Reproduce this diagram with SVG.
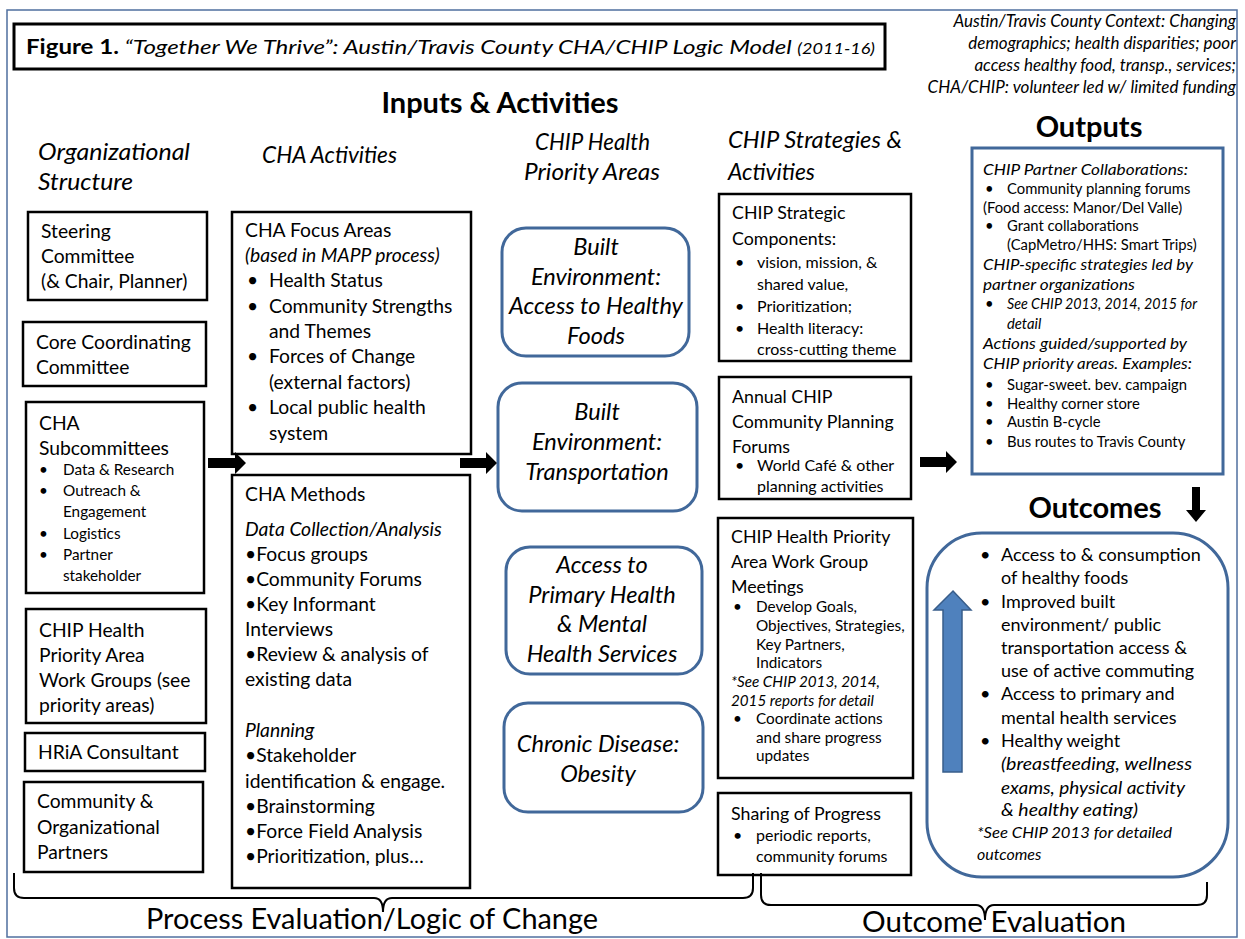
<svg xmlns="http://www.w3.org/2000/svg" width="1245" height="939" viewBox="0 0 1245 939">
<defs>
<style>
text{font-family:Lato,"Liberation Sans",sans-serif;fill:#000}
.it{font-style:italic}
.b{font-weight:bold}
.box{fill:#fff;stroke:#000;stroke-width:2.5}
.rbox{fill:#fff;stroke:#41689a;stroke-width:3}
.t19{font-size:19.3px}
.t18{font-size:17.8px}
.t16{font-size:16px}
.t15{font-size:15.3px}
.t24{font-size:23.6px}
.o15{font-size:14.8px}
.hd{font-size:23.5px;font-style:italic}
.big{font-size:29px;font-weight:bold}
.brace{fill:none;stroke:#000;stroke-width:2}
.blk{fill:#000}
</style>
</defs>
<rect x="0" y="0" width="1245" height="939" fill="#fff"/>
<rect x="7" y="10" width="1230" height="927" fill="none" stroke="#4f6f9f" stroke-width="1.5"/>

<g id="title">
<rect x="14" y="24" width="871" height="45" fill="#fff" stroke="#000" stroke-width="3"/>
<text x="26" y="54" font-size="20" textLength="849" lengthAdjust="spacingAndGlyphs"><tspan class="b">Figure 1.</tspan><tspan class="it"> “Together We Thrive”: Austin/Travis County CHA/CHIP Logic Model </tspan><tspan class="it" font-size="15">(2011-16)</tspan></text>
</g>

<g id="context" class="it" font-size="17" text-anchor="end">
<text x="1236" y="27">Austin/Travis County Context: Changing</text>
<text x="1236" y="49">demographics; health disparities; poor</text>
<text x="1236" y="71">access healthy food, transp., services;</text>
<text x="1236" y="93">CHA/CHIP: volunteer led w/ limited funding</text>
</g>

<g id="headers">
<text x="500" y="113" class="big" text-anchor="middle">Inputs &amp; Activities</text>
<text x="1089" y="137" class="big" text-anchor="middle">Outputs</text>
<text x="38" y="160" class="hd" textLength="152" lengthAdjust="spacingAndGlyphs">Organizational</text>
<text x="38" y="190" class="hd" textLength="95" lengthAdjust="spacingAndGlyphs">Structure</text>
<text x="262" y="163" class="hd" textLength="135" lengthAdjust="spacingAndGlyphs">CHA Activities</text>
<text x="535" y="150" class="hd" textLength="115" lengthAdjust="spacingAndGlyphs">CHIP Health</text>
<text x="524" y="180" class="hd" textLength="136" lengthAdjust="spacingAndGlyphs">Priority Areas</text>
<text x="728" y="148" class="hd" textLength="174" lengthAdjust="spacingAndGlyphs">CHIP Strategies &amp;</text>
<text x="728" y="180" class="hd" textLength="87" lengthAdjust="spacingAndGlyphs">Activities</text>
<text x="1095" y="518" class="big" text-anchor="middle">Outcomes</text>
</g>

<g id="steering">
<rect class="box" x="28" y="212" width="179" height="88"/>
<text class="t19" x="41" y="238">Steering</text>
<text class="t19" x="41" y="263">Committee</text>
<text class="t19" x="41" y="288">(&amp; Chair, Planner)</text>
</g>
<g id="core">
<rect class="box" x="23" y="322" width="183" height="64"/>
<text class="t19" x="36" y="349">Core Coordinating</text>
<text class="t19" x="36" y="374">Committee</text>
</g>
<g id="subcommittees">
<rect class="box" x="26" y="402" width="178" height="191"/>
<text class="t19" x="39" y="430">CHA</text>
<text class="t19" x="39" y="455">Subcommittees</text>
<g class="t15">
<text x="39" y="475">•</text><text x="63" y="475">Data &amp; Research</text>
<text x="39" y="496">•</text><text x="63" y="496">Outreach &amp;</text>
<text x="63" y="517">Engagement</text>
<text x="39" y="539">•</text><text x="63" y="539">Logistics</text>
<text x="39" y="560">•</text><text x="63" y="560">Partner</text>
<text x="63" y="581">stakeholder</text>
</g>
</g>
<g id="workgroups">
<rect class="box" x="26" y="609" width="180" height="114"/>
<text class="t19" x="39" y="637">CHIP Health</text>
<text class="t19" x="39" y="662">Priority Area</text>
<text class="t19" x="39" y="687">Work Groups (see</text>
<text class="t19" x="39" y="712">priority areas)</text>
</g>
<g id="hria">
<rect class="box" x="25" y="733" width="180" height="38"/>
<text class="t19" x="38" y="759">HRiA Consultant</text>
</g>
<g id="partners">
<rect class="box" x="24" y="782" width="179" height="90"/>
<text class="t19" x="37" y="808">Community &amp;</text>
<text class="t19" x="37" y="834">Organizational</text>
<text class="t19" x="37" y="859">Partners</text>
</g>

<g id="focus-areas">
<rect class="box" x="232" y="212" width="239" height="242"/>
<g class="t19">
<text x="245" y="237">CHA Focus Areas</text>
<text x="245" y="262" class="it">(based in MAPP process)</text>
<text x="247" y="287">•</text><text x="269" y="287">Health Status</text>
<text x="247" y="313">•</text><text x="269" y="313">Community Strengths</text>
<text x="269" y="338">and Themes</text>
<text x="247" y="363">•</text><text x="269" y="363">Forces of Change</text>
<text x="269" y="389">(external factors)</text>
<text x="247" y="414">•</text><text x="269" y="414">Local public health</text>
<text x="269" y="440">system</text>
</g>
</g>
<g id="methods">
<rect class="box" x="232" y="475" width="238" height="413"/>
<g class="t19">
<text x="245" y="501">CHA Methods</text>
<text x="245" y="536" class="it">Data Collection/Analysis</text>
<text x="245" y="561">•Focus groups</text>
<text x="245" y="586">•Community Forums</text>
<text x="245" y="611">•Key Informant</text>
<text x="245" y="636">Interviews</text>
<text x="245" y="661">•Review &amp; analysis of</text>
<text x="245" y="686">existing data</text>
<text x="245" y="737" class="it">Planning</text>
<text x="245" y="762">•Stakeholder</text>
<text x="245" y="788">identification &amp;  engage.</text>
<text x="245" y="813">•Brainstorming</text>
<text x="245" y="838">•Force Field Analysis</text>
<text x="245" y="863">•Prioritization, plus…</text>
</g>
</g>

<g id="pa-food">
<rect class="rbox" x="502" y="228" width="187" height="128" rx="24"/>
<g class="t24 it" text-anchor="middle">
<text x="596" y="255">Built</text>
<text x="596" y="285">Environment:</text>
<text x="596" y="314">Access to Healthy</text>
<text x="596" y="344">Foods</text>
</g>
</g>
<g id="pa-transport">
<rect class="rbox" x="498" y="383" width="199" height="128" rx="24"/>
<g class="t24 it" text-anchor="middle">
<text x="597" y="420">Built</text>
<text x="597" y="450">Environment:</text>
<text x="597" y="480">Transportation</text>
</g>
</g>
<g id="pa-primary">
<rect class="rbox" x="506" y="547" width="196" height="127" rx="24"/>
<g class="t24 it" text-anchor="middle">
<text x="602" y="573">Access to</text>
<text x="602" y="603">Primary Health</text>
<text x="602" y="632">&amp; Mental</text>
<text x="602" y="662">Health Services</text>
</g>
</g>
<g id="pa-obesity">
<rect class="rbox" x="504" y="703" width="199" height="109" rx="24"/>
<g class="t24 it" text-anchor="middle">
<text x="598" y="752">Chronic Disease:</text>
<text x="598" y="782">Obesity</text>
</g>
</g>

<g id="strategic">
<rect class="box" x="719" y="194" width="192" height="167"/>
<text class="t18" x="732" y="219">CHIP Strategic</text>
<text class="t18" x="732" y="245">Components:</text>
<g class="t16">
<text x="735" y="268">•</text><text x="757" y="268">vision, mission, &amp;</text>
<text x="757" y="290">shared value,</text>
<text x="735" y="312">•</text><text x="757" y="312">Prioritization;</text>
<text x="735" y="334">•</text><text x="757" y="334">Health literacy:</text>
<text x="757" y="355">cross-cutting theme</text>
</g>
</g>
<g id="forums">
<rect class="box" x="719" y="377" width="192" height="122"/>
<text class="t18" x="732" y="403">Annual CHIP</text>
<text class="t18" x="732" y="428">Community Planning</text>
<text class="t18" x="732" y="453">Forums</text>
<g class="t16">
<text x="735" y="471">•</text><text x="757" y="471">World Café &amp; other</text>
<text x="757" y="492">planning activities</text>
</g>
</g>
<g id="wg-meetings">
<rect class="box" x="718" y="518" width="195" height="260"/>
<text class="t18" x="731" y="543">CHIP Health Priority</text>
<text class="t18" x="731" y="568">Area Work Group</text>
<text class="t18" x="731" y="593">Meetings</text>
<g class="t15">
<text x="733" y="612">•</text><text x="756" y="612">Develop Goals,</text>
<text x="756" y="631">Objectives, Strategies,</text>
<text x="756" y="650">Key Partners,</text>
<text x="756" y="668">Indicators</text>
<text x="731" y="687" class="it" textLength="149" lengthAdjust="spacingAndGlyphs">*See CHIP 2013, 2014,</text>
<text x="731" y="706" class="it" textLength="143" lengthAdjust="spacingAndGlyphs">2015 reports for detail</text>
<text x="733" y="724">•</text><text x="756" y="724">Coordinate actions</text>
<text x="756" y="743">and share progress</text>
<text x="756" y="761">updates</text>
</g>
</g>
<g id="sharing">
<rect class="box" x="718" y="793" width="193" height="82"/>
<text class="t18" x="731" y="820">Sharing of Progress</text>
<g class="t16">
<text x="733" y="841">•</text><text x="756" y="841">periodic reports,</text>
<text x="756" y="862">community forums</text>
</g>
</g>

<g id="outputs">
<rect x="972" y="148" width="251" height="326" fill="#fff" stroke="#41689a" stroke-width="3"/>
<g class="o15">
<text x="983" y="175" class="it" textLength="205" lengthAdjust="spacingAndGlyphs">CHIP Partner  Collaborations:</text>
<text x="985" y="194">•</text><text x="1007" y="194">Community planning forums</text>
<text x="983" y="213">(Food access:  Manor/Del Valle)</text>
<text x="985" y="231">•</text><text x="1007" y="231">Grant collaborations</text>
<text x="1007" y="250">(CapMetro/HHS: Smart Trips)</text>
<text x="983" y="270" class="it" textLength="210" lengthAdjust="spacingAndGlyphs">CHIP-specific strategies led by</text>
<text x="983" y="290" class="it" textLength="152" lengthAdjust="spacingAndGlyphs">partner organizations</text>
<text x="985" y="309">•</text><text x="1007" y="309" class="it" textLength="190" lengthAdjust="spacingAndGlyphs">See CHIP 2013, 2014, 2015 for</text>
<text x="1007" y="329" class="it">detail</text>
<text x="983" y="349" class="it" textLength="204" lengthAdjust="spacingAndGlyphs">Actions guided/supported by</text>
<text x="983" y="369" class="it" textLength="209" lengthAdjust="spacingAndGlyphs">CHIP priority areas.  Examples:</text>
<text x="985" y="390">•</text><text x="1007" y="390">Sugar-sweet. bev. campaign</text>
<text x="985" y="409">•</text><text x="1007" y="409">Healthy corner store</text>
<text x="985" y="427">•</text><text x="1007" y="427">Austin B-cycle</text>
<text x="985" y="447">•</text><text x="1007" y="447">Bus routes to Travis County</text>
</g>
</g>

<g id="outcomes">
<rect x="927" y="533" width="301" height="344" rx="55" fill="#fff" stroke="#41689a" stroke-width="3"/>
<path d="M953,591 L971,610 L962,610 L962,772 L943,772 L943,610 L934,610 Z" fill="#4f81bd" stroke="#385d8a" stroke-width="1.5"/>
<g font-size="18">
<text x="980" y="561">•</text><text x="1001" y="561">Access to &amp; consumption</text>
<text x="1001" y="584">of healthy foods</text>
<text x="980" y="608">•</text><text x="1001" y="608">Improved built</text>
<text x="1001" y="631">environment/ public</text>
<text x="1001" y="654">transportation access &amp;</text>
<text x="1001" y="677">use of active commuting</text>
<text x="980" y="700">•</text><text x="1001" y="700">Access to primary and</text>
<text x="1001" y="724">mental health services</text>
<text x="980" y="747">•</text><text x="1001" y="747">Healthy weight</text>
<text x="1001" y="770" class="it" textLength="191" lengthAdjust="spacingAndGlyphs">(breastfeeding, wellness</text>
<text x="1001" y="794" class="it" textLength="184" lengthAdjust="spacingAndGlyphs">exams, physical activity</text>
<text x="1001" y="816" class="it" textLength="137" lengthAdjust="spacingAndGlyphs">&amp; healthy eating)</text>
</g>
<text x="977" y="838" font-size="16" class="it" textLength="195" lengthAdjust="spacingAndGlyphs">*See CHIP 2013 for detailed</text>
<text x="977" y="860" font-size="16" class="it">outcomes</text>
</g>

<g id="connectors">
<path class="blk" d="M208,458 L235,458 L235,452 L246,463 L235,474 L235,468 L208,468 Z"/>
<path class="blk" d="M460,458 L486,458 L486,452 L497,463 L486,474 L486,468 L460,468 Z"/>
<path class="blk" d="M920,457 L946,457 L946,451 L957,462 L946,473 L946,467 L920,467 Z"/>
<path class="blk" d="M1192,487 L1200,487 L1200,510 L1206,510 L1196,522 L1186,510 L1192,510 Z"/>
<path class="brace" d="M14,873 L14,888 Q14,898 24,898 L374,898 Q383,898 383,912 Q383,898 392,898 L743,898 Q753,898 753,888 L753,873"/>
<path class="brace" d="M761,873 L761,895 Q761,905 771,905 L976,905 Q985,905 985,920 Q985,905 994,905 L1197,905 Q1207,905 1207,895 L1207,882"/>
</g>

<g id="footer">
<text x="146" y="929" font-size="29" textLength="452" lengthAdjust="spacingAndGlyphs">Process Evaluation/Logic of Change</text>
<text x="862" y="932" font-size="28" textLength="264" lengthAdjust="spacingAndGlyphs">Outcome Evaluation</text>
</g>
</svg>
